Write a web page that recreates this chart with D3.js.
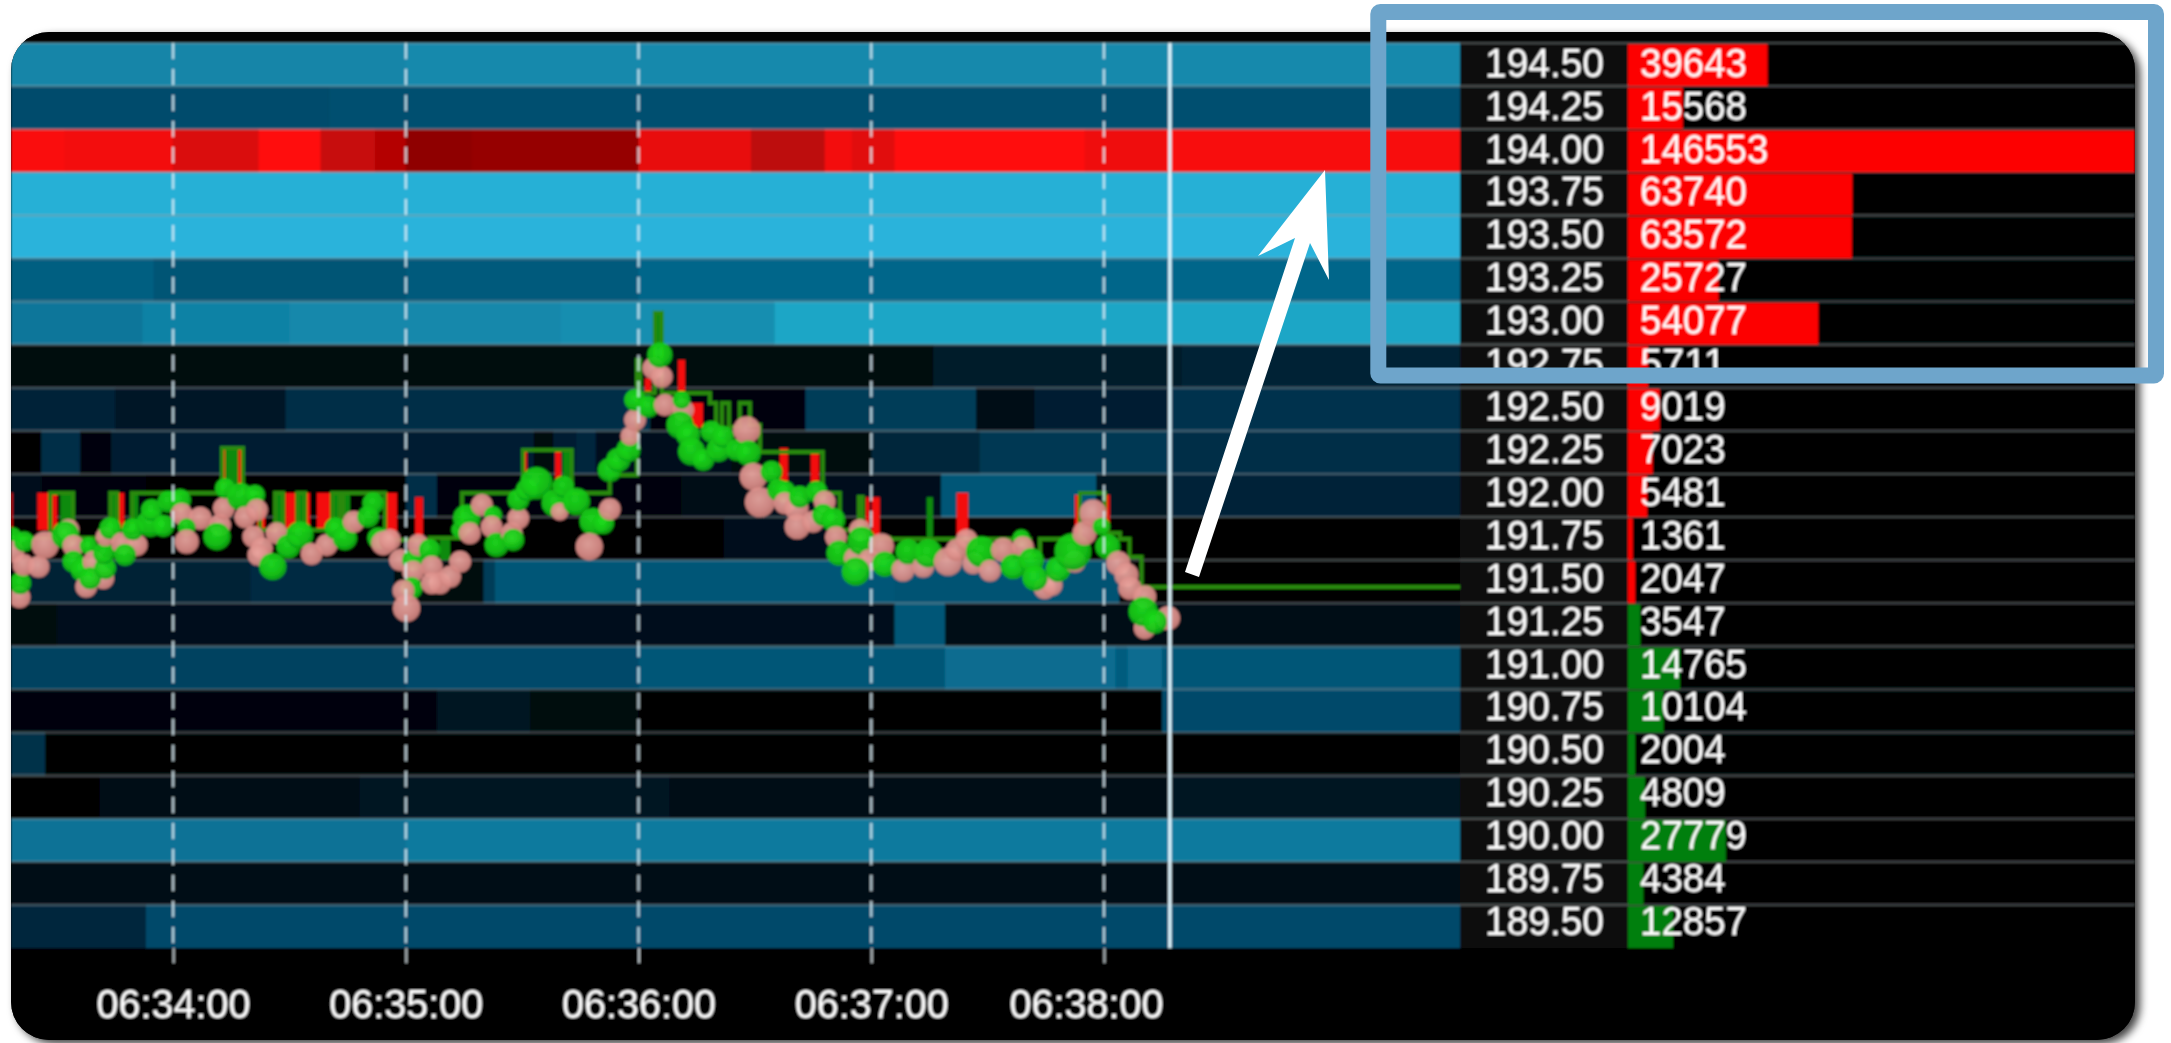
<!DOCTYPE html>
<html><head><meta charset="utf-8">
<style>html,body{margin:0;padding:0;background:#fff;overflow:hidden}svg{display:block}text{font-family:"Liberation Sans",Arial,sans-serif}</style>
<script src="https://cdnjs.cloudflare.com/ajax/libs/d3/7.9.0/d3.min.js"></script>
</head><body><svg id="c" width="2171" height="1043"></svg>
<script>
const priceLabels=["194.50","194.25","194.00","193.75","193.50","193.25","193.00","192.75","192.50","192.25","192.00","191.75","191.50","191.25","191.00","190.75","190.50","190.25","190.00","189.75","189.50"];
const bookVolume=[39643,15568,146553,63740,63572,25727,54077,5711,9019,7023,5481,1361,2047,3547,14765,10104,2004,4809,27779,4384,12857];
const bookSide=["a","a","a","a","a","a","a","a","a","a","a","a","a","b","b","b","b","b","b","b","b"];
const timeTicks=[0,60,120,180,240];
const timeLabels=["06:34:00","06:35:00","06:36:00","06:37:00","06:38:00"];
const nowTime=257;
// resting liquidity per price level: [segment end time in seconds after 06:34:00, intensity]
const heat=[
[[60,.77],[332,.8]],
[[40,.47],[332,.49]],
[[-28,.98],[0,.95],[22,.84],[38,1],[52,.76],[60,.68],[77,.52],[120,.55],[149,.9],[168,.72],[175,.95],[186,.87],[235,1],[256,.93],[332,.97]],
[[332,.98]],
[[332,1]],
[[-5,.56],[60,.51],[120,.54],[332,.6]],
[[-8,.68],[30,.75],[100,.79],[155,.82],[332,.92]],
[[196,.06],[260,.18],[332,.22]],
[[-15,.24],[29,.16],[123,.3],[163,.04],[207,.38],[222,.07],[257,.2],[332,.33]],
[[-34,.02],[-24,.3],[-16,.03],[93,.2],[98,.05],[104,.2],[109,.26],[144,.1],[180,.06],[208,.25],[257,.36],[332,.3]],
[[-34,.12],[-7,.04],[60,.02],[68,.3],[131,.03],[151,.07],[198,.1],[238,.52],[257,.14],[332,.24]],
[[142,.01],[169,.1],[332,0]],
[[-37,.03],[20,.22],[57,.28],[80,.05],[83,.38],[186,.52],[244,.5],[332,.02]],
[[-30,.05],[186,.1],[199,.52],[332,.08]],
[[60,.42],[120,.46],[199,.52],[243,.63],[246,.55],[255,.63],[332,.52]],
[[68,.03],[92,.14],[120,.05],[255,.02],[332,.46]],
[[-33,.32],[332,0]],
[[-19,.02],[48,.07],[128,.13],[257,.09],[332,.14]],
[[60,.66],[332,.7]],
[[332,.08]],
[[-7,.26],[332,.46]]
];
const tradeTime=[-41.6,-41.2,-39.6,-39.4,-38.4,-38.6,-34.7,-33,-27,-27.8,-25.7,-21.8,-25.7,-23.3,-20.5,-22.4,-18,-21.4,-17.5,-17.8,-17.5,-16.2,-13.2,-9.4,-12.4,-10.4,-5.9,-5.5,-2.5,-1.2,1.8,2.2,7,3.5,3.5,12.1,11.3,13.1,13.4,17.4,21.1,18.6,21.6,20.7,22.9,22,26.7,25.7,29.7,32.7,35.7,39.6,41.8,44.3,46.6,51.6,50.3,52.9,54.2,
55.9,58.5,61.9,63.2,66.2,66.7,61.9,61.5,59.4,60.2,68.8,66.7,71.4,74,74,75.7,76.5,79.6,82.5,82.1,83.4,87.3,87.7,89,89,91.2,93.7,98.5,99.7,100.6,104,108.3,110.9,112.6,107.3,112.6,114.8,117.4,117.8,119.1,119.1,122.5,126.8,123.8,126,125.5,131.5,131.1,130.7,132.8,133.7,136.7,138.8,140.6,141.8,145.3,147.9,148.3,149.6,154.3,151.3,156,
157.7,157.7,160.7,161.6,160.9,165,165.9,168,167.6,170.2,170.9,171.7,175.8,177.1,177.5,179.5,182.6,176,183.5,188.2,189.5,193.4,194.7,199.8,202,204.6,206.3,208.4,210.6,214,218.7,219.1,216.6,221.3,224.7,226.5,222.2,228.2,232.5,232,235,237.2,239.4,241,243.7,245.8,246.7,250.5,250.5,250.1,256.5,253.1];
const tradePrice=[191.752,191.674,191.41,191.491,191.732,191.597,191.587,191.713,191.8,191.771,191.707,191.707,191.616,191.568,191.616,191.471,191.52,191.52,191.578,191.665,191.761,191.81,191.723,191.713,191.655,191.804,191.839,191.916,191.823,191.964,191.974,191.893,191.868,191.816,191.732,191.829,191.761,191.926,192.042,191.993,192.003,191.874,191.916,191.761,191.694,191.655,191.781,191.587,191.703,191.771,191.661,191.713,191.81,191.752,191.848,191.955,191.877,191.752,191.723,
191.742,191.626,191.626,191.713,191.684,191.587,191.558,191.462,191.448,191.346,191.491,191.491,191.529,191.616,191.8,191.868,191.781,191.945,191.887,191.819,191.713,191.781,191.742,191.868,191.974,192.032,192.071,191.955,191.906,192.051,191.964,191.848,191.839,191.92,191.703,192.148,192.206,192.264,192.345,192.438,192.554,192.515,192.525,192.738,192.689,192.815,192.496,192.554,192.409,192.351,192.254,192.206,192.37,192.264,192.341,192.264,192.38,192.245,192.109,192.138,191.961,192.032,
192.022,191.955,191.926,191.993,191.819,191.848,192.022,191.964,191.887,191.858,191.758,191.665,191.636,191.8,191.736,191.626,191.707,191.558,191.601,191.568,191.674,191.587,191.665,191.616,191.684,191.742,191.607,191.674,191.564,191.684,191.752,191.7,191.587,191.622,191.462,191.481,191.52,191.572,191.616,191.674,191.781,191.897,191.819,191.703,191.607,191.539,191.462,191.413,191.23,191.326,191.288,191.268];
const tradeBuy=[1,0,0,1,1,0,0,0,0,1,0,1,1,1,0,0,0,1,1,1,0,1,0,0,1,1,1,1,1,1,1,0,0,1,0,0,1,0,1,1,1,0,0,0,0,0,0,1,1,1,0,0,1,1,0,1,1,1,0,
0,0,1,0,1,0,0,1,0,0,0,0,0,0,1,1,0,0,1,0,1,0,1,0,1,1,1,1,0,1,1,1,1,0,0,1,1,1,0,0,1,1,0,0,0,1,0,1,1,1,1,1,1,1,1,1,0,1,0,1,0,1,
1,0,0,1,0,0,1,0,1,1,0,1,0,0,1,0,0,1,1,0,1,0,1,0,0,0,0,1,0,0,1,0,1,1,0,0,1,1,0,1,0,0,1,1,0,0,0,0,0,1,0,1];
const tradeVolume=[90,90,90,90,80,90,90,140,90,140,90,60,90,110,90,90,90,90,90,90,70,90,90,90,90,90,140,90,90,90,90,90,100,60,110,90,140,90,80,140,80,90,90,90,90,90,90,140,110,140,90,90,90,110,90,90,90,90,110,
90,90,90,90,90,90,90,90,90,140,90,90,90,90,60,140,90,90,60,90,110,90,90,90,90,90,200,140,60,90,140,140,90,90,140,110,110,110,70,90,90,90,90,90,90,120,90,60,140,110,140,90,90,110,90,90,140,120,140,90,170,90,
90,90,110,90,120,90,90,90,90,110,90,120,90,90,150,90,120,150,120,100,120,90,150,150,90,90,90,180,90,110,60,90,120,120,90,90,120,120,90,256,110,140,60,120,110,110,100,100,90,160,110,110];
// bid/ask pressure spikes: start time, end time, top price, bottom price
const askSpikes=[[-42,-41.4,192.015,191.8],[-35,-32.2,192.015,191.8],[-31.2,-29.9,192.015,191.8],[-14.4,-12.6,192.015,191.8],[12.6,13.4,192.276,192.06],[16.8,18,192.276,192.06],[21.6,23.7,191.916,191.8],[28.9,32,192.015,191.8],[34,35.3,192.015,191.8],[37.1,40.5,192.015,191.8],[54.6,57.7,192.015,191.742],[62.4,64.4,191.99,191.76],[90.2,91.2,192.264,192.12],[98.5,100,192.264,192.09],[121.6,123.2,192.68,192.595],[130.2,132,192.786,192.583],[133.8,136.6,192.537,192.397],[156.4,158.5,192.276,192.073],[164.4,166.5,192.247,192.073],[178.6,179.6,191.99,191.83],[180.2,182.2,191.99,191.76],[202,205,192.015,191.77],[232.5,233.8,192.003,191.783],[240.2,241.5,192.003,191.783]];
const bidSpikes=[[-29.1,-25.8,192.015,191.8],[-22.7,-21.4,191.742,191.667],[-16.2,-14.4,192.015,191.8],[-10.6,-9,192.015,191.8],[13.4,16.8,192.276,192.06],[26.3,28.4,192.015,191.8],[32,34,192.015,191.8],[41,43,192.015,191.8],[43.8,45.6,192.015,191.8],[68.8,71.4,191.742,191.626],[100.5,102.8,192.264,192.09],[119.6,120.1,192.786,192.595],[124.2,126,193.06,192.861],[176.8,177.8,191.99,191.84],[194.3,195.9,191.99,191.753],[219.3,221,191.742,191.672]];
const bidLineTime=[-41.8,-31.7,-25.8,-18.8,-16.2,-14.4,-10.6,12.6,18,22.4,26.3,28.4,32,34,41,43,43.8,54.6,66.2,74.5,90.2,102.8,112.6,119.6,120.4,124.2,126,138.4,140,141.5,143.3,146.1,148.7,151.3,155.7,167.5,171.9,176.8,177.8,184.8,219.3,220.9,223.5,233.8,240.2,244.1,246.6,249.7,331.8];
const bidLinePrice=[191.753,192.015,191.753,191.8,192.015,191.8,192.015,192.276,192.015,191.8,192.015,191.8,192.015,191.8,192.015,191.8,192.015,191.742,191.753,192.015,192.264,192.015,192.119,192.786,192.595,193.06,192.595,192.537,192.397,192.537,192.397,192.537,192.409,192.252,192.252,192.015,191.8,191.991,191.753,191.748,191.748,191.655,191.748,192.015,191.783,191.748,191.643,191.469,191.469];

const svg=d3.select("#c");
const defs=svg.append("defs");
const PX={l:11,r:2135,t:32,b:1040,heatR:1460,barL:1628,rowT:43,rowB:948};
defs.append("clipPath").attr("id","panel").append("rect").attr("x",PX.l).attr("y",PX.t).attr("width",PX.r-PX.l).attr("height",PX.b-PX.t).attr("rx",38);
defs.append("clipPath").attr("id","heatClip").append("rect").attr("x",PX.l).attr("y",PX.rowT).attr("width",PX.heatR-PX.l).attr("height",PX.rowB-PX.rowT);
const sh=defs.append("filter").attr("id","shadow").attr("x","-5%").attr("y","-5%").attr("width","110%").attr("height","110%");
sh.append("feDropShadow").attr("dx",5).attr("dy",4).attr("stdDeviation",4).attr("flood-color","#000").attr("flood-opacity",.75);
defs.append("filter").attr("id","soft").attr("x","-2%").attr("y","-2%").attr("width","104%").attr("height","104%").append("feGaussianBlur").attr("stdDeviation",.8);
function grad(id,a,b,c){const g=defs.append("radialGradient").attr("id",id).attr("cx","45%").attr("cy","40%").attr("r","62%");
 g.append("stop").attr("offset","0%").attr("stop-color",a);g.append("stop").attr("offset","65%").attr("stop-color",b);g.append("stop").attr("offset","100%").attr("stop-color",c);}
grad("gBuy","#1fe01f","#14c814","#0c9a10");grad("gSell","#eba7a0","#dc8f8a","#c77a74");

const x=d3.scaleLinear().domain([-41.8,331.8]).range([PX.l,PX.heatR]);
const y=d3.scaleLinear().domain([194.625,189.375]).range([PX.rowT,PX.rowB]);
const labelBase=d3.scaleLinear().domain([194.5,189.5]).range([76.7,935]);
const rowH=y(189.5)-y(189.75);
const blue=d3.scaleLinear().domain([0,.1,.2,.3,.48,.6,.7,.8,.92,1]).range(["#000000","#010e1a","#021e30","#032e46","#004e6e","#06668a","#0b7a9e","#1689ac","#1ca6c6","#2cb3db"]);
const red=d3.scaleLinear().domain([.5,1]).range(["#8a0000","#ff1010"]);
const vol=d3.scaleLinear().domain([0,144000]).range([PX.barL,PX.r]).clamp(true);
const rad=d3.scaleSqrt().domain([0,256]).range([0,18.5]);

svg.append("rect").attr("x",PX.l).attr("y",PX.t).attr("width",PX.r-PX.l).attr("height",PX.b-PX.t).attr("rx",38).attr("fill","#000").attr("filter","url(#shadow)");
const root=svg.append("g").attr("clip-path","url(#panel)").append("g").attr("filter","url(#soft)");
root.append("rect").attr("x",PX.l).attr("y",PX.t).attr("width",PX.r-PX.l).attr("height",PX.b-PX.t).attr("fill","#000");

// heat map
const rowPrice=priceLabels.map(Number);
heat.forEach((segs,i)=>{
 let start=x.domain()[0];
 const isRed=rowPrice[i]===194;
 segs.forEach(([end,v])=>{
  const e=Math.min(end,x.domain()[1]);
  root.append("rect").attr("x",x(start)).attr("width",x(e)-x(start)+.5)
   .attr("y",y(rowPrice[i]+.125)).attr("height",rowH)
   .attr("fill",isRed?red(v):blue(v));
  start=e;
 });
});
// price column background
root.append("rect").attr("x",PX.heatR).attr("y",PX.rowT).attr("width",PX.barL-PX.heatR).attr("height",PX.rowB-PX.rowT).attr("fill","#101010");
// row separators
root.selectAll("line.row").data(rowPrice).join("line").attr("class","row")
 .attr("x1",PX.l).attr("x2",PX.r).attr("y1",d=>y(d+.125)).attr("y2",d=>y(d+.125))
 .attr("stroke","#aeb8bc").attr("stroke-opacity",.34).attr("stroke-width",2.6);
// book bars
root.selectAll("rect.bar").data(bookVolume).join("rect").attr("class","bar")
 .attr("x",PX.barL).attr("width",d=>vol(d)-PX.barL)
 .attr("y",(d,i)=>y(rowPrice[i]+.125)+1.2).attr("height",rowH-1.2)
 .attr("fill",(d,i)=>bookSide[i]==="a"?"#fd0000":"#067f0b");

// order flow overlay
const ov=root.append("g").attr("clip-path","url(#heatClip)");
ov.selectAll("rect.bid").data(bidSpikes).join("rect").attr("class","bid")
 .attr("x",d=>x(d[0])).attr("width",d=>x(d[1])-x(d[0])).attr("y",d=>y(d[2])).attr("height",d=>y(d[3])-y(d[2])).attr("fill","#0d8a10");
ov.selectAll("rect.ask").data(askSpikes).join("rect").attr("class","ask")
 .attr("x",d=>x(d[0])).attr("width",d=>x(d[1])-x(d[0])).attr("y",d=>y(d[2])).attr("height",d=>y(d[3])-y(d[2])).attr("fill","#f40a0a");
const stepLine=d3.line().x(d=>x(d[0])).y(d=>y(d[1])).curve(d3.curveStepAfter);
ov.append("path").attr("d",stepLine(d3.zip(bidLineTime,bidLinePrice))).attr("fill","none").attr("stroke","#2c8a0c").attr("stroke-width",4);
ov.selectAll("circle").data(tradeTime.map((t,i)=>i)).join("circle")
 .attr("cx",i=>x(tradeTime[i])).attr("cy",i=>y(tradePrice[i])).attr("r",i=>rad(tradeVolume[i]))
 .attr("fill",i=>tradeBuy[i]?"url(#gBuy)":"url(#gSell)").attr("fill-opacity",.93);

// time axis with dashed gridlines
root.selectAll("line.vg").data(timeTicks).join("line").attr("class","vg")
 .attr("x1",d=>x(d)).attr("x2",d=>x(d)).attr("y1",PX.rowT).attr("y2",PX.rowB)
 .attr("stroke","#dff3fb").attr("stroke-opacity",.78).attr("stroke-width",2.4).attr("stroke-dasharray","16 10");
const ax=root.append("g").attr("transform",`translate(0,${PX.rowB})`)
 .call(d3.axisBottom(x).tickValues(timeTicks).tickFormat((d,i)=>timeLabels[i]).tickSize(15).tickPadding(26));
ax.select(".domain").remove();
ax.selectAll(".tick line").attr("stroke","#b9c2c6").attr("stroke-width",2);
ax.selectAll(".tick text").attr("fill","#fff").attr("font-size",41).attr("font-family","Liberation Sans")
 .attr("textLength",154).attr("lengthAdjust","spacingAndGlyphs")
 .attr("dx",(d,i)=>i===timeTicks.length-1?-18:0);
root.append("line").attr("x1",x(nowTime)).attr("x2",x(nowTime)).attr("y1",PX.rowT).attr("y2",PX.rowB)
 .attr("stroke","#dff6ff").attr("stroke-width",3.4);

// labels
const charW=21.4;
root.selectAll("text.p").data(priceLabels).join("text").attr("class","p")
 .attr("x",1485).attr("y",d=>labelBase(+d)).attr("fill","#fff").attr("font-size",41)
 .attr("textLength",119).attr("lengthAdjust","spacingAndGlyphs").text(d=>d);
root.selectAll("text.v").data(bookVolume).join("text").attr("class","v")
 .attr("x",1640).attr("y",(d,i)=>labelBase(rowPrice[i])).attr("fill","#fff").attr("font-size",41)
 .attr("textLength",d=>String(d).length*charW).attr("lengthAdjust","spacingAndGlyphs").text(d=>d);

// annotation
svg.append("path").attr("d","M1185,572 L1199,577 L1310,243 L1329,280 L1325,170 L1258,256 L1295,238 Z").attr("fill","#fff");
svg.append("rect").attr("x",1378.3).attr("y",12).attr("width",777.7).attr("height",363.5).attr("rx",2)
 .attr("fill","none").attr("stroke","#6ea5cb").attr("stroke-width",16);
</script></body></html>
